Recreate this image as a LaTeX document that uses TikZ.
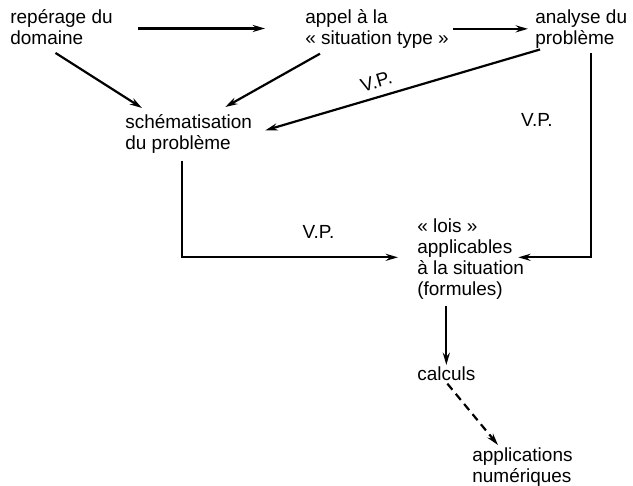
\documentclass[tikz,border=0pt]{standalone}
\usepackage{fontspec}
\setmainfont{Liberation Sans}
\usetikzlibrary{arrows.meta, calc}
\begin{document}
\begin{tikzpicture}[
  x=0.02cm, y=-0.02cm,
  every node/.style={font=\fontsize{10.8}{12}\selectfont},
  txt/.style={anchor=north west, inner sep=0pt, align=left},
  vp/.style={inner sep=0pt},
  arr/.style={-{Stealth[length=7pt, width=4pt]}, line width=1.25pt},
  rarr/.style={{Stealth[length=7pt, width=4pt]}-, line width=1.25pt},
  darr/.style={arr, dash pattern=on 4.5pt off 3pt},
]
  \useasboundingbox (0,0) rectangle (633,485);

  % Top row
  \node[txt] (rep) at (10,9) {repérage du\\domaine};
  \node[txt] (appel) at (305,9) {appel à la\\« situation type »};
  \node[txt] (analyse) at (535,9) {analyse du\\problème};

  % Middle
  \node[txt] (schema) at (125,114) {schématisation\\du problème};
  \node[txt] (lois) at (417,218) {« lois »\\applicables\\à la situation\\(formules)};

  % Bottom
  \node[txt] (calculs) at (417,366) {calculs};
  \node[txt] (appli) at (472,447) {applications\\numériques};

  % Arrows top row
  \draw[arr] ($(rep.east)+(25,1.5)$) -- ($(rep.east -| appel.west)+(-40,1.5)$);
  \draw[arr] ($(appel.east)+(4,0)$) -- ($(appel.east -| analyse.west)+(-7,0)$);
  % To schematisation
  \draw[arr] ($(rep.south)+(-6,8)$) -- ($(schema.north west)+(17,-6)$);
  \draw[arr] ($(appel.south west)+(15,5)$) -- ($(schema.north east)+(-27,-7)$);
  \draw[rarr] ($(schema.east)+(13,-3.5)$) -- node[vp, sloped, above=4.5pt, pos=0.42] (vp1) {V.P.} ($(analyse.south west)+(5,1)$);
  % To lois
  \draw[arr] ($(schema.south)+(-6.5,7)$) |- node[vp, above=10pt, pos=0.816] (vp3) {V.P.} ($(lois.west)+(-19,-1.5)$);
  \draw[arr] ($(analyse.south)+(9.5,5)$) |- node[vp, left=21pt, pos=0.164] (vp2) {V.P.} ($(lois.east)+(-6,-1.5)$);
  % Calculations
  \draw[arr] ($(lois.south -| calculs.north)+(0,6)$) -- ($(calculs.north)+(0,-1)$);
  \draw[darr] ($(calculs.south)+(1,3)$) -- ($(appli.north west)+(26,-2)$);
\end{tikzpicture}
\end{document}
